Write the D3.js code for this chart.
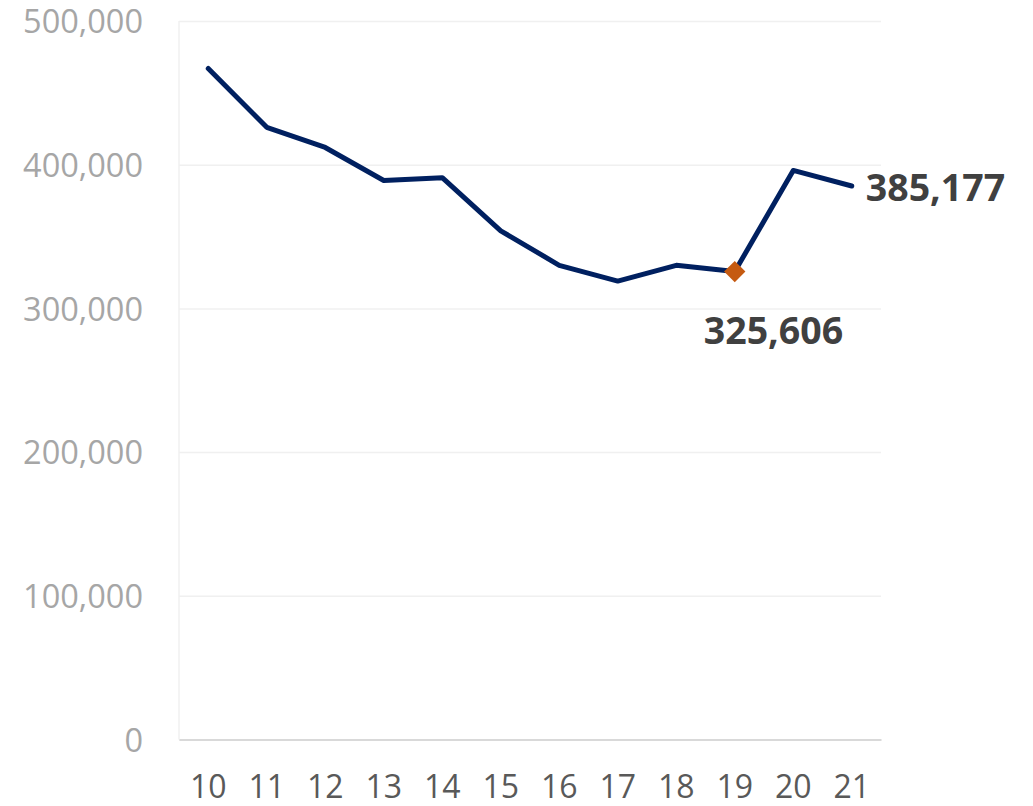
<!DOCTYPE html>
<html>
<head>
<meta charset="utf-8">
<script src="https://cdn.jsdelivr.net/npm/d3@7"></script>
<style>
  html, body { margin: 0; padding: 0; background: #ffffff; }
  svg { display: block; }
</style>
</head>
<body>
<svg id="chart" width="1033" height="806"></svg>
<script>
// ---- data ----
const categories = ["10","11","12","13","14","15","16","17","18","19","20","21"];
const values = [467000, 426000, 412000, 389000, 391000, 354000, 330000, 319000, 330000, 325606, 396000, 385177];
const yTicks = [0, 100000, 200000, 300000, 400000, 500000];
const highlightCategory = "19";
const labelledCategories = ["19", "21"];

// ---- layout ----
const W = 1033, H = 806;
const plot = { left: 179, right: 881, top: 21, bottom: 739.5 };

const svg = d3.select("#chart");

const x = d3.scaleBand().domain(categories).range([plot.left, plot.right]).padding(0);
const cx = c => x(c) + x.bandwidth() / 2;
const y = d3.scaleLinear().domain([0, 500000]).range([plot.bottom, plot.top]);

// gridlines + y labels
const yAxis = d3.axisLeft(y)
  .tickValues(yTicks)
  .tickFormat(d3.format(","))
  .tickSize(-(plot.right - plot.left))
  .tickPadding(36);
const gy = svg.append("g").attr("transform", `translate(${plot.left},0)`).call(yAxis);
gy.select(".domain").remove();
gy.selectAll(".tick line").attr("stroke", "#f0f0f0").attr("stroke-width", 1.5);
gy.selectAll(".tick text")
  .attr("fill", "#a6a6a6")
  .attr("font-family", "'Open Sans', sans-serif")
  .attr("font-size", 32.5)
  .attr("dy", "0.36em");

// left vertical line
svg.append("line")
  .attr("x1", plot.left).attr("x2", plot.left)
  .attr("y1", plot.top).attr("y2", plot.bottom)
  .attr("stroke", "#f0f0f0").attr("stroke-width", 1.5);

// x axis
const xAxis = d3.axisBottom(x).tickSize(0).tickPadding(0);
const gx = svg.append("g").attr("transform", `translate(0,${plot.bottom})`).call(xAxis);
gx.select(".domain").attr("stroke", "#d9d9d9").attr("stroke-width", 2);
gx.selectAll(".tick text")
  .attr("fill", "#595959")
  .attr("font-family", "'Open Sans', sans-serif")
  .attr("font-size", 32)
  .attr("y", 0)
  .attr("dy", 0)
  .attr("transform", "translate(0,58.8)");

// line
const data = categories.map((c, i) => ({ c, v: values[i] }));
const line = d3.line().x(d => cx(d.c)).y(d => y(d.v));
svg.append("path")
  .datum(data)
  .attr("d", line)
  .attr("fill", "none")
  .attr("stroke", "#002060")
  .attr("stroke-width", 5)
  .attr("stroke-linejoin", "round")
  .attr("stroke-linecap", "round");

// highlight marker (diamond)
const hl = data.find(d => d.c === highlightCategory);
svg.append("path")
  .attr("d", d3.symbol().type(d3.symbolDiamond2).size(290)())
  .attr("transform", `translate(${cx(hl.c)},${y(hl.v)})`)
  .attr("fill", "#c55a11");

// data labels
const fmt = d3.format(",");
const labelOffsets = {
  "19": { dx: -31, dy: 72 },
  "21": { dx: 14, dy: 14.5 }
};
data.filter(d => labelledCategories.includes(d.c)).forEach(d => {
  const o = labelOffsets[d.c];
  svg.append("text")
    .attr("x", cx(d.c) + o.dx)
    .attr("y", y(d.v) + o.dy)
    .attr("fill", "#404040")
    .attr("font-family", "'Open Sans', sans-serif")
    .attr("font-weight", 700)
    .attr("font-size", 37.5)
    .text(fmt(d.v));
});
</script>
</body>
</html>
